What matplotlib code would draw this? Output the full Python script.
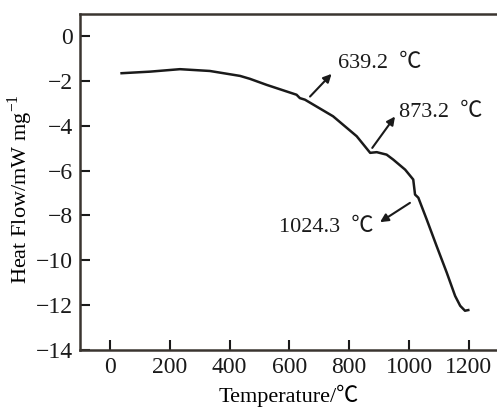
import matplotlib
matplotlib.use("Agg")
import matplotlib.pyplot as plt

plt.rcParams['font.family'] = ['Liberation Serif', 'Noto Sans CJK SC', 'DejaVu Serif']
plt.rcParams['mathtext.fontset'] = 'custom'
plt.rcParams['mathtext.rm'] = 'Liberation Serif'

temperature = [39, 134, 234, 334, 435, 468, 524, 624, 635, 652, 746, 825, 870, 892,
               925, 947, 987, 1014, 1020, 1031, 1059, 1092, 1126, 1154, 1171, 1187, 1198]
heat_flow = [-1.66, -1.59, -1.48, -1.56, -1.78, -1.91, -2.18, -2.62, -2.77, -2.84, -3.58,
             -4.47, -5.21, -5.18, -5.29, -5.51, -5.96, -6.40, -7.07, -7.21, -8.18, -9.36,
             -10.55, -11.59, -12.03, -12.25, -12.22]

x_ticks = [0, 200, 400, 600, 800, 1000, 1200]
y_ticks = [0, -2, -4, -6, -8, -10, -12, -14]

annotations = [
    ("639.2  \u2103", (669, -2.70), (741, -1.69), (761, -1.21)),
    ("873.2  \u2103", (877, -4.99), (953, -3.59), (967, -3.39)),
    ("1024.3  \u2103", (1003, -7.44), (903, -8.30), (566, -8.55)),
]

W, H = 497, 407
fig = plt.figure(figsize=(W / 100, H / 100), dpi=100)
ax = fig.add_axes([80 / W, (H - 350) / H, (W - 80) / W, (350 - 14) / H])

ax.plot(temperature, heat_flow, color='#1a1a1a', lw=1.8)

for text, tail, head, tpos in annotations:
    ax.annotate('', xy=head, xytext=tail,
                arrowprops=dict(arrowstyle='-|>', color='#1a1a1a', lw=1.5,
                                mutation_scale=12, shrinkA=0, shrinkB=0))
    ax.text(tpos[0], tpos[1], text, fontsize=16, va='center', ha='left',
            color='#1a1a1a', fontweight='light')

ax.set_xlim(-100, 1294)
ax.set_ylim(-14, 0.98)
ax.set_xticks(x_ticks)
ax.set_yticks(y_ticks)
ax.tick_params(direction='in', length=7, width=1.5, labelsize=17, colors='#1a1a1a', pad=5)

spine_color = '#3a3530'
for s in ['left', 'bottom', 'top']:
    ax.spines[s].set_linewidth(1.8)
    ax.spines[s].set_color(spine_color)
ax.spines['right'].set_visible(False)

ax.set_xlabel('Temperature/\u2103', fontsize=16, labelpad=5, fontweight='light')
ax.set_ylabel('Heat Flow/mW mg$^{\\mathregular{-1}}$', fontsize=16)
ax.yaxis.set_label_coords(-0.108, 0.479)

fig.savefig('out.png', dpi=100)
